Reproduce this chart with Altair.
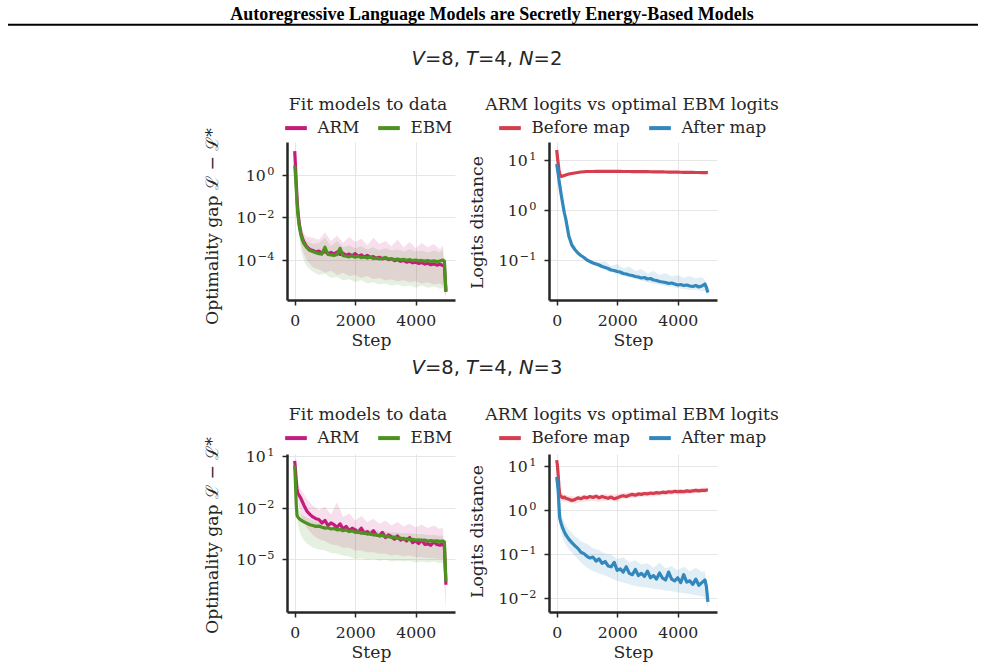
import altair as alt
import pandas as pd

# ---------------- data (values in log10 units) ----------------
STEPS = [0, 25, 50, 75, 100, 150, 200, 250, 300, 400,
         500, 600, 700, 800, 900, 1000, 1100, 1200, 1300, 1400,
         1500, 1600, 1700, 1800, 1900, 2000, 2100, 2200, 2300, 2400,
         2500, 2600, 2700, 2800, 2900, 3000, 3100, 3200, 3300, 3400,
         3500, 3600, 3700, 3800, 3900, 4000, 4100, 4200, 4300, 4400,
         4500, 4600, 4700, 4800, 4900, 4950, 5000]
BAND_STEPS = [0, 100, 200, 300, 400, 600, 800, 1000, 1200, 1400,
              1600, 1800, 2000, 2200, 2400, 2600, 2800, 3000, 3200, 3400,
              3600, 3800, 4000, 4200, 4400, 4600, 4800, 4900, 5000]

# V=8, T=4, N=2 : fit models to data
N2_ARM = [1.12, 0.45, -0.35, -1.05, -1.6, -2.3, -2.7, -2.95, -3.15, -3.38,
          -3.5, -3.55, -3.62, -3.58, -3.66, -3.6, -3.7, -3.64, -3.72, -3.62,
          -3.74, -3.68, -3.78, -3.72, -3.8, -3.7, -3.82, -3.76, -3.85, -3.78,
          -3.88, -3.84, -3.92, -3.87, -3.95, -3.9, -3.98, -3.94, -4.03, -3.98,
          -4.06, -4.02, -4.1, -4.06, -4.13, -4.1, -4.16, -4.12, -4.19, -4.15,
          -4.22, -4.18, -4.24, -4.2, -4.26, -4.28, -5.5]
N2_EBM = [0.45, 0.0, -0.65, -1.3, -1.8, -2.4, -2.8, -3.05, -3.22, -3.42,
          -3.55, -3.6, -3.66, -3.7, -3.72, -3.4, -3.74, -3.76, -3.78, -3.74,
          -3.45, -3.8, -3.82, -3.85, -3.8, -3.87, -3.82, -3.89, -3.86, -3.91,
          -3.86, -3.93, -3.9, -3.95, -3.92, -3.88, -3.96, -3.94, -3.98, -3.95,
          -3.99, -3.97, -4.01, -3.98, -4.03, -4.0, -4.04, -4.02, -4.05, -4.03,
          -4.06, -4.04, -4.07, -4.05, -4.0, -4.06, -5.45]
N2_ARM_HI = [1.2, -1.3, -2.3, -2.75, -2.9, -2.95, -3.05, -2.7, -3.1, -2.85,
             -3.2, -2.9, -3.15, -3.0, -3.3, -2.95, -3.25, -3.1, -3.35, -3.05,
             -3.4, -3.15, -3.45, -3.2, -3.4, -3.25, -3.5, -3.3, -5.2]
N2_ARM_LO = [1.0, -1.9, -3.2, -3.7, -4.0, -4.35, -4.45, -4.6, -4.5, -4.7,
             -4.6, -4.75, -4.7, -4.85, -4.75, -4.9, -4.85, -4.95, -4.9, -5.0,
             -4.95, -5.05, -5.0, -5.1, -5.05, -5.15, -5.1, -5.2, -5.7]
N2_EBM_HI = [0.5, -1.6, -2.5, -2.9, -3.1, -3.25, -3.2, -2.95, -3.35, -3.1,
             -3.4, -3.3, -3.45, -3.35, -3.5, -3.4, -3.55, -3.45, -3.55, -3.5,
             -3.6, -3.5, -3.6, -3.55, -3.65, -3.55, -3.65, -3.5, -5.2]
N2_EBM_LO = [0.4, -2.1, -3.5, -4.0, -4.3, -4.55, -4.7, -4.65, -4.85, -4.8,
             -4.95, -4.9, -5.05, -4.95, -5.1, -5.05, -5.15, -5.1, -5.2, -5.15,
             -5.25, -5.2, -5.3, -5.2, -5.3, -5.25, -5.35, -5.3, -5.75]

# V=8, T=4, N=2 : ARM logits vs optimal EBM logits
N2_BEFORE = [1.2, 1.05, 0.92, 0.8, 0.72, 0.67, 0.68, 0.69, 0.7, 0.72,
             0.73, 0.74, 0.75, 0.76, 0.765, 0.77, 0.77, 0.77, 0.772, 0.772,
             0.772, 0.772, 0.772, 0.772, 0.771, 0.771, 0.771, 0.77, 0.77, 0.77,
             0.769, 0.769, 0.768, 0.768, 0.767, 0.766, 0.765, 0.764, 0.763, 0.762,
             0.761, 0.76, 0.759, 0.758, 0.757, 0.756, 0.755, 0.754, 0.753, 0.752,
             0.751, 0.75, 0.75, 0.749, 0.748, 0.748, 0.746]
N2_AFTER = [0.92, 0.82, 0.72, 0.6, 0.5, 0.3, 0.12, -0.05, -0.18, -0.52,
            -0.7, -0.79, -0.86, -0.91, -0.95, -1.0, -1.03, -1.06, -1.08, -1.1,
            -1.13, -1.15, -1.17, -1.2, -1.21, -1.23, -1.24, -1.27, -1.28, -1.3,
            -1.31, -1.33, -1.34, -1.36, -1.35, -1.38, -1.37, -1.4, -1.41, -1.43,
            -1.44, -1.45, -1.47, -1.46, -1.48, -1.5, -1.49, -1.51, -1.5, -1.52,
            -1.53, -1.51, -1.54, -1.52, -1.48, -1.55, -1.65]
N2_AFTER_HI = [0.93, 0.52, 0.14, -0.16, -0.5, -0.77, -0.88, -0.97, -1.02, -1.04,
               -1.03, -1.12, -1.08, -1.17, -1.13, -1.22, -1.18, -1.27, -1.22, -1.3,
               -1.26, -1.33, -1.3, -1.36, -1.32, -1.37, -1.34, -1.4, -1.6]
N2_AFTER_LO = [0.9, 0.48, 0.1, -0.2, -0.56, -0.82, -0.95, -1.04, -1.1, -1.15,
               -1.2, -1.24, -1.28, -1.32, -1.35, -1.38, -1.41, -1.45, -1.47, -1.5,
               -1.52, -1.54, -1.56, -1.58, -1.6, -1.6, -1.62, -1.62, -1.7]

# V=8, T=4, N=3 : fit models to data
N3_ARM = [0.72, 0.2, -0.4, -0.9, -1.15, -1.3, -1.45, -1.65, -1.85, -2.2,
          -2.4, -2.55, -2.65, -2.7, -2.9, -2.75, -3.05, -2.9, -3.0, -3.15,
          -2.95, -3.25, -3.1, -3.35, -3.2, -3.3, -3.45, -3.2, -3.5, -3.4,
          -3.55, -3.35, -3.6, -3.65, -3.45, -3.75, -3.6, -3.7, -3.85, -3.65,
          -3.9, -3.8, -3.95, -3.75, -4.05, -3.95, -4.1, -3.9, -4.15, -4.1,
          -4.2, -4.0, -4.15, -4.2, -4.1, -4.3, -6.5]
N3_EBM = [0.46, -0.6, -1.8, -2.45, -2.55, -2.65, -2.72, -2.78, -2.83, -2.92,
          -3.0, -3.05, -3.1, -3.08, -3.15, -3.2, -3.18, -3.25, -3.22, -3.3,
          -3.28, -3.35, -3.3, -3.4, -3.36, -3.45, -3.42, -3.5, -3.48, -3.55,
          -3.52, -3.6, -3.58, -3.65, -3.62, -3.7, -3.68, -3.75, -3.72, -3.8,
          -3.78, -3.85, -3.82, -3.88, -3.86, -3.9, -3.88, -3.92, -3.9, -3.95,
          -3.93, -3.96, -3.94, -3.97, -3.95, -4.0, -6.3]
N3_ARM_HI = [0.8, -0.7, -0.95, -1.2, -1.5, -1.9, -2.15, -1.95, -2.4, -1.7,
             -2.55, -2.35, -2.75, -2.5, -2.85, -2.65, -2.95, -2.75, -3.05, -2.85,
             -3.1, -2.95, -3.15, -3.0, -3.2, -3.05, -3.25, -3.15, -6.0]
N3_ARM_LO = [0.6, -1.6, -2.4, -2.85, -3.2, -3.6, -3.85, -3.95, -4.15, -4.2,
             -4.35, -4.35, -4.5, -4.5, -4.6, -4.6, -4.7, -4.7, -4.8, -4.75,
             -4.85, -4.8, -4.9, -4.9, -4.95, -4.95, -5.0, -5.0, -8.0]
N3_EBM_HI = [0.5, -2.0, -2.35, -2.5, -2.6, -2.75, -2.85, -2.9, -3.0, -3.0,
             -3.1, -3.1, -3.2, -3.2, -3.3, -3.3, -3.4, -3.4, -3.45, -3.45,
             -3.5, -3.5, -3.55, -3.55, -3.6, -3.6, -3.65, -3.65, -6.0]
N3_EBM_LO = [0.4, -3.0, -3.6, -3.9, -4.1, -4.35, -4.45, -4.5, -4.65, -4.7,
             -4.8, -4.85, -5.0, -4.95, -5.05, -5.0, -5.1, -5.05, -5.15, -5.1,
             -5.15, -5.1, -5.2, -5.15, -5.2, -5.15, -5.25, -5.2, -6.6]

# V=8, T=4, N=3 : ARM logits vs optimal EBM logits
N3_BEFORE = [1.13, 1.0, 0.78, 0.52, 0.34, 0.3, 0.27, 0.29, 0.26, 0.24,
             0.21, 0.23, 0.27, 0.25, 0.29, 0.27, 0.3, 0.28, 0.31, 0.27,
             0.3, 0.28, 0.26, 0.29, 0.25, 0.27, 0.3, 0.32, 0.3, 0.33,
             0.35, 0.33, 0.36, 0.35, 0.37, 0.36, 0.38, 0.37, 0.39, 0.38,
             0.4, 0.39, 0.41, 0.4, 0.42, 0.41, 0.42, 0.41, 0.43, 0.42,
             0.43, 0.44, 0.43, 0.44, 0.44, 0.45, 0.45]
N3_AFTER = [0.75, 0.6, 0.42, 0.1, -0.19, -0.32, -0.42, -0.5, -0.57, -0.67,
            -0.75, -0.82, -0.88, -0.97, -1.0, -1.06, -1.1, -1.08, -1.17, -1.12,
            -1.22, -1.18, -1.28, -1.3, -1.2, -1.38, -1.35, -1.42, -1.3, -1.45,
            -1.48, -1.36, -1.5, -1.45, -1.52, -1.4, -1.55, -1.5, -1.58, -1.44,
            -1.56, -1.6, -1.42, -1.58, -1.62, -1.55, -1.66, -1.48, -1.65, -1.62,
            -1.7, -1.58, -1.72, -1.66, -1.6, -1.75, -2.1]
N3_BEFORE_HI = [1.16, 0.45, 0.36, 0.34, 0.32, 0.3, 0.33, 0.35, 0.34, 0.35,
                0.36, 0.35, 0.36, 0.38, 0.4, 0.39, 0.41, 0.42, 0.43, 0.44,
                0.45, 0.46, 0.47, 0.47, 0.48, 0.49, 0.5, 0.5, 0.5]
N3_BEFORE_LO = [1.1, 0.24, 0.18, 0.18, 0.16, 0.14, 0.17, 0.19, 0.2, 0.18,
                0.2, 0.21, 0.17, 0.25, 0.26, 0.27, 0.29, 0.3, 0.31, 0.32,
                0.33, 0.34, 0.35, 0.35, 0.36, 0.38, 0.38, 0.38, 0.4]
N3_AFTER_HI = [0.78, 0.0, -0.2, -0.35, -0.45, -0.6, -0.72, -0.78, -0.88, -0.92,
               -1.0, -1.02, -1.12, -1.08, -1.2, -1.15, -1.25, -1.22, -1.32, -1.2,
               -1.34, -1.28, -1.38, -1.3, -1.4, -1.32, -1.42, -1.4, -1.95]
N3_AFTER_LO = [0.72, -0.4, -0.65, -0.8, -0.9, -1.05, -1.2, -1.32, -1.4, -1.45,
               -1.5, -1.56, -1.62, -1.66, -1.7, -1.74, -1.76, -1.78, -1.8, -1.82,
               -1.84, -1.86, -1.88, -1.9, -1.92, -1.95, -1.97, -2.0, -2.25]

FIT_NAMES = ["ARM", "EBM"]
FIT_COLORS = ["#c51b7d", "#4d9221"]
MAP_NAMES = ["Before map", "After map"]
MAP_COLORS = ["#d53e4f", "#3288bd"]
XTICKS = [0, 2000, 4000]

HEADER = "Autoregressive Language Models are Secretly Energy-Based Models"

# ---------------- styling ----------------
INK = "#262626"
SERIF = "DejaVu Serif"
W, H = 168, 158
X_DOMAIN = [-255, 5300]
TICK_FS, EXP_FS, LAB_FS, TITLE_FS = 15.7, 11.3, 16.8, 17.2

AX = dict(grid=True, gridColor="#e6e6e6", gridWidth=1, domainColor=INK, domainWidth=2.5,
          tickColor=INK, tickWidth=1.5, tickSize=5, labelFont=SERIF, labelFontSize=TICK_FS,
          labelColor=INK, titleFont=SERIF, titleFontSize=TITLE_FS, titleFontWeight="normal",
          titleColor=INK, labelFlush=False, labelOverlap=False)


def line_df(name, logs):
    return pd.DataFrame({"step": STEPS, "value": [10.0 ** v for v in logs], "series": name})


def band_df(name, lo, hi):
    return pd.DataFrame({"step": BAND_STEPS, "lo": [10.0 ** v for v in lo],
                         "hi": [10.0 ** v for v in hi], "series": name})


def tick_labels(exps, ys, yaxis):
    """y tick labels drawn as '10' plus a smaller raised exponent, placed by the y scale"""
    out = []
    right = -12.5
    for e in exps:
        es = str(e).replace("-", "\u2212")
        ew = sum(9.4 if c == "\u2212" else 7.2 for c in es)
        d = alt.Data(values=[{"value": 10.0 ** e, "base": "10", "exp": es}])
        y = alt.Y("value:Q", scale=ys, axis=yaxis)
        out.append(alt.Chart(d).mark_text(align="right", baseline="middle", font=SERIF,
                                          fontSize=TICK_FS, color=INK, dy=1)
                   .encode(x=alt.value(right - ew - 1.5), y=y, text="base:N"))
        out.append(alt.Chart(d).mark_text(align="right", baseline="middle", font=SERIF,
                                          fontSize=EXP_FS, color=INK, dy=-2.8)
                   .encode(x=alt.value(right), y=y, text="exp:N"))
    return out


def panel(names, colors, lines, bands, ylog, yexps, ytitle, title_x, title_y,
          legend_title, legend_x, legend_y, extra=()):
    xs = alt.Scale(domain=X_DOMAIN, nice=False, zero=False)
    ys = alt.Scale(type="log", domain=[10.0 ** ylog[0], 10.0 ** ylog[1]], nice=False)
    xaxis = alt.Axis(values=XTICKS, format="d", title="Step", labelPadding=8, titleY=31, **AX)
    yaxis = alt.Axis(values=[10.0 ** e for e in yexps], labels=False,
                     title=ytitle, titleX=title_x, titleY=title_y, **AX)
    legend = alt.Legend(title=legend_title, orient="none", legendX=legend_x, legendY=legend_y,
                        direction="horizontal", symbolType="stroke", symbolSize=470,
                        symbolStrokeWidth=4, labelFont=SERIF, labelFontSize=LAB_FS,
                        labelColor=INK, labelOffset=8.5, columnPadding=10, titleFont=SERIF,
                        titleFontSize=TITLE_FS, titleFontWeight="normal", titleColor=INK,
                        titleAnchor="middle", titlePadding=1.5, padding=0, titleLimit=500,
                        labelLimit=300)
    sscale = alt.Scale(domain=names, range=colors)
    layers = []
    for name, color in zip(names, colors):
        if name in bands:
            lo, hi = bands[name]
            layers.append(
                alt.Chart(band_df(name, lo, hi)).mark_area(color=color, opacity=0.14, clip=True)
                .encode(x=alt.X("step:Q", scale=xs, axis=xaxis),
                        y=alt.Y("hi:Q", scale=ys, axis=yaxis), y2="lo:Q"))
    for name in names:
        layers.append(
            alt.Chart(line_df(name, lines[name])).mark_line(strokeWidth=3.2, strokeJoin="round", clip=True)
            .encode(x=alt.X("step:Q", scale=xs, axis=xaxis),
                    y=alt.Y("value:Q", scale=ys, axis=yaxis),
                    stroke=alt.Stroke("series:N", scale=sscale, legend=legend)))
    layers.extend(tick_labels(yexps, ys, yaxis))
    layers.extend(extra)
    return alt.layer(*layers).properties(width=W, height=H)


ONE = alt.Data(values=[{}])


def text(s, x, y, color=INK, **kw):
    return alt.Chart(ONE).mark_text(text=s, color=color, **kw).encode(x=alt.value(x), y=alt.value(y))


def row_title(n, y):
    pieces = [("V", True, 124.6), ("=8, ", False, 137.9), ("T", True, 179.0),
              ("=4, ", False, 190.9), ("N", True, 232.0), (f"={n}", False, 246.6)]
    return [text(s, x, y, font="DejaVu Sans", fontSize=19.5, align="left", baseline="alphabetic",
                 fontStyle="italic" if it else "normal") for s, it, x in pieces]


deco = [
    alt.Chart(ONE).mark_rect(opacity=0).encode(x=alt.value(-287), x2=alt.value(698),
                                               y=alt.value(-142), y2=alt.value(523)),
    text(HEADER, 205, -122.5, color="black", font="Liberation Serif", fontSize=18,
         fontWeight="bold", align="center", baseline="alphabetic"),
    alt.Chart(ONE).mark_rule(color="black", strokeWidth=2).encode(
        x=alt.value(-279), x2=alt.value(691), y=alt.value(-117.25)),
] + row_title(2, -77) + row_title(3, 232)

YT_FIT = "Optimality gap \u2112 \u2212 \u2112*"
YT_MAP = "Logits distance"

tl = panel(FIT_NAMES, FIT_COLORS, {"ARM": N2_ARM, "EBM": N2_EBM},
           {"ARM": (N2_ARM_LO, N2_ARM_HI), "EBM": (N2_EBM_LO, N2_EBM_HI)},
           (-5.88, 1.55), [0, -2, -4], YT_FIT, -66, 84, "Fit models to data", -4, -45.7,
           extra=deco)
tr = panel(MAP_NAMES, MAP_COLORS, {"Before map": N2_BEFORE, "After map": N2_AFTER},
           {"After map": (N2_AFTER_LO, N2_AFTER_HI)},
           (-1.8, 1.36), [1, 0, -1], YT_MAP, -63, 80, "ARM logits vs optimal EBM logits",
           -64, -45.7)
bl = panel(FIT_NAMES, FIT_COLORS, {"ARM": N3_ARM, "EBM": N3_EBM},
           {"ARM": (N3_ARM_LO, N3_ARM_HI), "EBM": (N3_EBM_LO, N3_EBM_HI)},
           (-8.09, 1.12), [1, -2, -5], YT_FIT, -66, 81, "Fit models to data", -4, -47.7)
br = panel(MAP_NAMES, MAP_COLORS, {"Before map": N3_BEFORE, "After map": N3_AFTER},
           {"Before map": (N3_BEFORE_LO, N3_BEFORE_HI), "After map": (N3_AFTER_LO, N3_AFTER_HI)},
           (-2.33, 1.27), [1, 0, -1, -2], YT_MAP, -63, 77, "ARM logits vs optimal EBM logits",
           -64, -47.7)

chart = (
    alt.concat(tl, tr, bl, br, columns=2, spacing={"row": 154, "column": 94}, bounds="flush")
    .resolve_scale(x="independent", y="independent", stroke="independent")
    .resolve_legend(stroke="independent")
    .properties(padding=0, background="white")
    .configure_view(stroke=None)
)

chart.save("out.html", embed_options={"renderer": "svg", "actions": False})
